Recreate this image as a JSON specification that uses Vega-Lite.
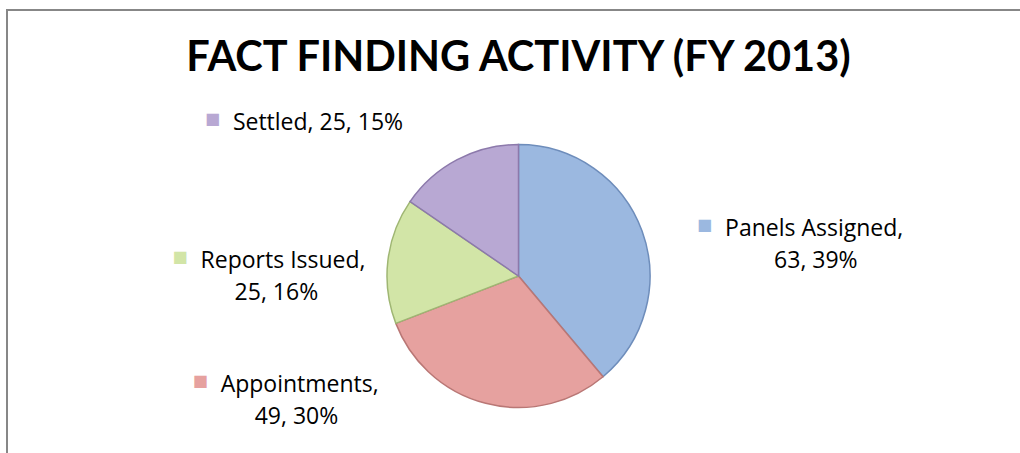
{
  "$schema": "https://vega.github.io/schema/vega-lite/v6.json",
  "width": 1023,
  "height": 532,
  "autosize": {"type": "none"},
  "padding": {"left": 7, "top": 10, "right": 0, "bottom": 0},
  "background": "white",
  "view": {"stroke": "#878787", "strokeWidth": 2, "fill": "white"},
  "config": {"view": {"stroke": "#878787", "strokeWidth": 2}},
  "title": {
    "text": "FACT FINDING ACTIVITY (FY 2013)",
    "font": "Lato",
    "fontSize": 41.5,
    "fontWeight": "bold",
    "color": "#000000",
    "anchor": "middle",
    "frame": "group",
    "baseline": "alphabetic",
    "offset": -102
  },
  "data": {
    "values": [
      {"category": "Panels Assigned", "count": 63, "pct": 39},
      {"category": "Appointments", "count": 49, "pct": 30},
      {"category": "Reports Issued", "count": 25, "pct": 16},
      {"category": "Settled", "count": 25, "pct": 15}
    ]
  },
  "transform": [
    {"window": [{"op": "row_number", "as": "idx"}]},
    {"calculate": "datum.category === 'Panels Assigned' ? 'right' : 'left'", "as": "side"},
    {"calculate": "datum.category === 'Settled' ? datum.category + ', ' + datum.count + ', ' + datum.pct + '%' : datum.category + ','", "as": "line1"},
    {"calculate": "datum.category === 'Settled' ? '' : datum.count + ', ' + datum.pct + '%'", "as": "line2"},
    {"calculate": "datum.side === 'left' ? datum.line1 : ''", "as": "l1_left"},
    {"calculate": "datum.side === 'left' ? datum.line2 : ''", "as": "l2_left"},
    {"calculate": "datum.side === 'left' ? '■' : ''", "as": "sq_left"},
    {"calculate": "datum.side === 'right' ? datum.line1 : ''", "as": "l1_right"},
    {"calculate": "datum.side === 'right' ? datum.line2 : ''", "as": "l2_right"},
    {"calculate": "datum.side === 'right' ? '■' : ''", "as": "sq_right"}
  ],
  "encoding": {
    "theta": {"field": "count", "type": "quantitative", "stack": true},
    "order": {"field": "idx", "type": "quantitative"}
  },
  "resolve": {"scale": {"theta": "independent"}},
  "layer": [
    {
      "mark": {"type": "arc", "outerRadius": 131.5, "strokeWidth": 1.5},
      "encoding": {
        "color": {
          "field": "category",
          "type": "nominal",
          "scale": {
            "domain": ["Panels Assigned", "Appointments", "Reports Issued", "Settled"],
            "range": ["#9BB8E0", "#E6A19F", "#D2E5A7", "#B8A8D3"]
          },
          "legend": null
        },
        "stroke": {
          "field": "category",
          "type": "nominal",
          "scale": {
            "domain": ["Panels Assigned", "Appointments", "Reports Issued", "Settled"],
            "range": ["#6E8DBB", "#B97775", "#9FB673", "#8C79AB"]
          },
          "legend": null
        }
      }
    },
    {
      "encoding": {
        "theta": {
          "field": "count",
          "type": "quantitative",
          "stack": true,
          "scale": {"type": "pow", "exponent": 3, "range": [4.1741, 5.4139]}
        },
        "radius": {"value": 346}
      },
      "layer": [
        {
          "mark": {"type": "text", "font": "DejaVu Sans", "fontSize": 16, "align": "left", "baseline": "alphabetic", "dy": -6},
          "encoding": {
            "text": {"field": "sq_left", "type": "nominal"},
            "color": {"field": "category", "type": "nominal", "legend": null}
          }
        },
        {
          "mark": {"type": "text", "font": "Open Sans", "fontSize": 23, "align": "left", "baseline": "alphabetic", "dx": 28, "color": "#000000"},
          "encoding": {
            "text": {"field": "l1_left", "type": "nominal"},
            "detail": {"field": "category", "type": "nominal"}
          }
        },
        {
          "mark": {"type": "text", "font": "Open Sans", "fontSize": 23, "align": "left", "baseline": "alphabetic", "dx": 62, "dy": 32, "color": "#000000"},
          "encoding": {
            "text": {"field": "l2_left", "type": "nominal"},
            "detail": {"field": "category", "type": "nominal"}
          }
        }
      ]
    },
    {
      "encoding": {
        "theta": {
          "field": "count",
          "type": "quantitative",
          "stack": true,
          "scale": {"range": [0.129, 6.412]}
        },
        "radius": {"value": 183}
      },
      "layer": [
        {
          "mark": {"type": "text", "font": "DejaVu Sans", "fontSize": 16, "align": "left", "baseline": "alphabetic", "dy": -6},
          "encoding": {
            "text": {"field": "sq_right", "type": "nominal"},
            "color": {"field": "category", "type": "nominal", "legend": null}
          }
        },
        {
          "mark": {"type": "text", "font": "Open Sans", "fontSize": 23, "align": "left", "baseline": "alphabetic", "dx": 28, "color": "#000000"},
          "encoding": {
            "text": {"field": "l1_right", "type": "nominal"},
            "detail": {"field": "category", "type": "nominal"}
          }
        },
        {
          "mark": {"type": "text", "font": "Open Sans", "fontSize": 23, "align": "left", "baseline": "alphabetic", "dx": 77, "dy": 32, "color": "#000000"},
          "encoding": {
            "text": {"field": "l2_right", "type": "nominal"},
            "detail": {"field": "category", "type": "nominal"}
          }
        }
      ]
    }
  ]
}
